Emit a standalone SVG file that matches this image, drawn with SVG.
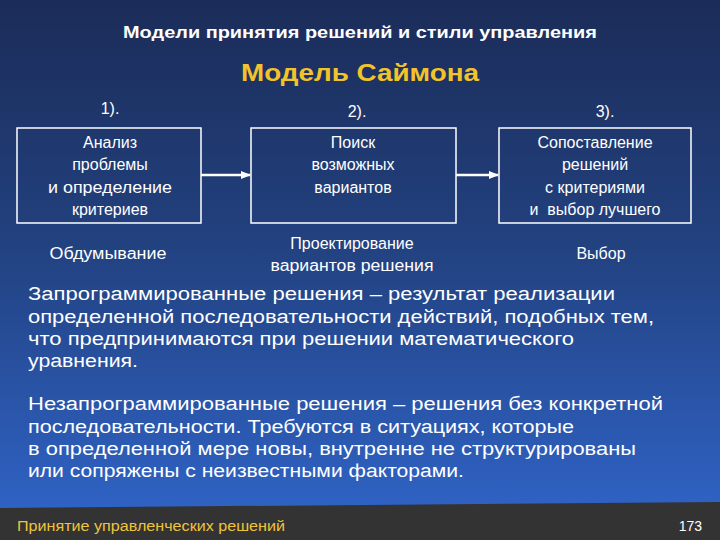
<svg xmlns="http://www.w3.org/2000/svg" width="720" height="540" viewBox="0 0 720 540">
<defs>
<linearGradient id="bg" x1="0" y1="0" x2="0" y2="1">
<stop offset="0" stop-color="#1b2c58"/>
<stop offset="0.45" stop-color="#22417f"/>
<stop offset="1" stop-color="#3066cc"/>
</linearGradient>
<marker id="ah" viewBox="0 0 10 10" refX="9" refY="5" markerWidth="4" markerHeight="4" orient="auto" markerUnits="strokeWidth">
<path d="M0,1 L10,5 L0,9 Z" fill="#ffffff"/>
</marker>
<style>
text{font-family:"Liberation Sans",Arial,sans-serif;fill:#ffffff}
.box{fill:none;stroke:#ffffff;stroke-width:1.5}
.bt{font-size:16px;text-anchor:middle}
.p{font-size:18px}
.conn{stroke:#ffffff;stroke-width:2.5;fill:none}
</style>
</defs>
<rect x="0" y="0" width="720" height="540" fill="url(#bg)"/>
<polygon points="0,508 720,502 720,540 0,540" fill="#333333"/>

<text x="360" y="38" font-size="17" font-weight="bold" text-anchor="middle" textLength="474" lengthAdjust="spacingAndGlyphs">Модели принятия решений и стили управления</text>
<text x="360" y="81" font-size="24" font-weight="bold" text-anchor="middle" style="fill:#f2c42a" textLength="238" lengthAdjust="spacingAndGlyphs">Модель Саймона</text>

<text x="110" y="114" font-size="16" text-anchor="middle">1).</text>
<text x="357" y="117" font-size="16" text-anchor="middle">2).</text>
<text x="605" y="117" font-size="16" text-anchor="middle">3).</text>

<g id="connectors">
<line class="conn" x1="201" y1="175" x2="250" y2="175" marker-end="url(#ah)"/>
<line class="conn" x1="456" y1="175" x2="498" y2="175" marker-end="url(#ah)"/>
</g>

<g id="node1">
<rect class="box" x="17" y="128" width="184" height="95"/>
<text class="bt" x="110" y="148">Анализ</text>
<text class="bt" x="110" y="170">проблемы</text>
<text class="bt" x="110" y="193" textLength="124" lengthAdjust="spacingAndGlyphs">и определение</text>
<text class="bt" x="110" y="215">критериев</text>
</g>
<g id="node2">
<rect class="box" x="251" y="128" width="205" height="95"/>
<text class="bt" x="353" y="148">Поиск</text>
<text class="bt" x="353" y="170">возможных</text>
<text class="bt" x="353" y="193">вариантов</text>
</g>
<g id="node3">
<rect class="box" x="499" y="128" width="192" height="95"/>
<text class="bt" x="595" y="148">Сопоставление</text>
<text class="bt" x="595" y="170">решений</text>
<text class="bt" x="595" y="193">с критериями</text>
<text class="bt" x="595" y="215" xml:space="preserve">и  выбор лучшего</text>
</g>

<g id="labels">
<text class="bt" x="108" y="259" textLength="117" lengthAdjust="spacingAndGlyphs">Обдумывание</text>
<text class="bt" x="352" y="249">Проектирование</text>
<text class="bt" x="352" y="271" textLength="163" lengthAdjust="spacingAndGlyphs">вариантов решения</text>
<text class="bt" x="601" y="259">Выбор</text>
</g>

<g id="para1">
<text class="p" x="28" y="300" textLength="587" lengthAdjust="spacingAndGlyphs">Запрограммированные решения – результат реализации</text>
<text class="p" x="28" y="323" textLength="626" lengthAdjust="spacingAndGlyphs">определенной последовательности действий, подобных тем,</text>
<text class="p" x="28" y="345" textLength="546" lengthAdjust="spacingAndGlyphs">что предпринимаются при решении математического</text>
<text class="p" x="28" y="367" textLength="110" lengthAdjust="spacingAndGlyphs">уравнения.</text>
</g>
<g id="para2">
<text class="p" x="28" y="410" textLength="635" lengthAdjust="spacingAndGlyphs">Незапрограммированные решения – решения без конкретной</text>
<text class="p" x="28" y="433" textLength="546" lengthAdjust="spacingAndGlyphs">последовательности. Требуются в ситуациях, которые</text>
<text class="p" x="28" y="455" textLength="608" lengthAdjust="spacingAndGlyphs">в определенной мере новы, внутренне не структурированы</text>
<text class="p" x="28" y="477" textLength="436" lengthAdjust="spacingAndGlyphs">или сопряжены с неизвестными факторами.</text>
</g>

<text x="17" y="531" font-size="14" style="fill:#eec43a" textLength="268" lengthAdjust="spacingAndGlyphs">Принятие управленческих решений</text>
<text x="702" y="531" font-size="14" text-anchor="end">173</text>
</svg>
